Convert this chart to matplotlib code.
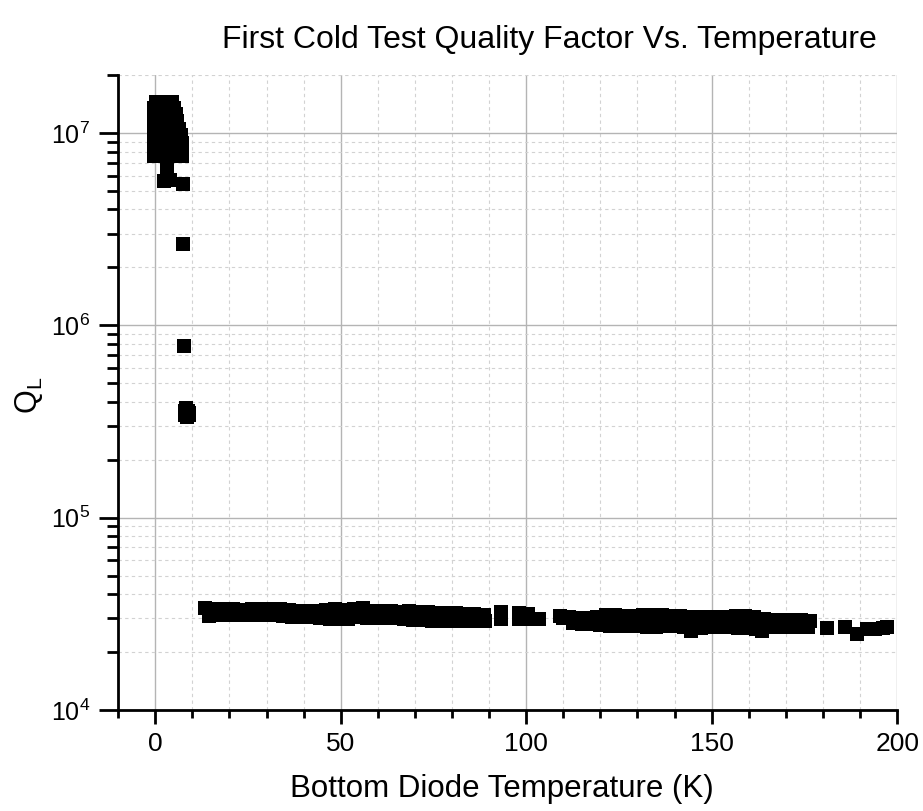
import matplotlib
matplotlib.use('Agg')
import matplotlib.pyplot as plt
from matplotlib.ticker import MultipleLocator, LogLocator, NullFormatter, FixedLocator
import numpy as np

plt.rcParams['font.family'] = ['Liberation Sans', 'DejaVu Sans']
plt.rcParams['mathtext.fontset'] = 'custom'
plt.rcParams['mathtext.rm'] = 'Liberation Sans'
plt.rcParams['mathtext.it'] = 'Liberation Sans:italic'

# superconducting cluster, low temperature (K, Q_L)
cold_t = [0.2, 1.0, 2.0, 3.0, 4.0, 4.6,
          -0.2, 0.8, 1.8, 2.8, 3.8, 5.0,
          -0.3, 0.6, 1.5, 2.5, 3.5, 4.5, 5.6,
          -0.3, 0.7, 1.7, 2.7, 3.7, 4.7, 6.0,
          -0.2, 0.9, 1.9, 2.9, 3.9, 4.9, 6.4,
          -0.3, 0.7, 1.7, 2.7, 3.7, 4.7, 5.8, 6.9,
          -0.3, 0.8, 1.8, 2.8, 3.8, 5.0, 6.2, 7.2,
          -0.2, 0.9, 2.0, 3.0, 4.0, 5.2, 6.4, 7.3,
          -0.2, 1.0, 2.1, 3.2, 4.3, 5.5, 6.6, 7.3,
          3.2, 3.3, 3.1, 2.4, 4.0, 7.6]
cold_q = [1.45e7] * 6 + [1.35e7] * 6 + [1.25e7] * 7 + [1.15e7] * 7 + [1.05e7] * 7 \
    + [9.7e6] * 8 + [8.9e6] * 8 + [8.2e6] * 8 + [7.6e6] * 8 \
    + [7.0e6, 6.4e6, 6.0e6, 5.6e6, 5.7e6, 5.4e6]

# transition points
trans_t = [7.6, 7.8, 7.9, 8.3, 8.8, 9.2, 8.0, 8.6, 9.1]
trans_q = [2.65e6, 7.85e5, 3.6e5, 3.7e5, 3.6e5, 3.5e5, 3.4e5, 3.35e5, 3.4e5]

# normal-conducting band
warm_t = [13.5, 16, 18.5, 21, 23.5, 26, 28.5, 31, 33.5, 36, 38.5, 41, 43.5, 46, 48.5,
          51, 53.5, 56, 58.5, 61, 63.5, 66, 68.5, 71, 73.5, 76, 78.5, 81, 83.5, 86, 88.5,
          14.5, 17, 19.5, 22, 24.5, 27, 29.5, 32, 34.5, 37, 39.5, 42, 44.5, 47, 49.5,
          52, 54.5, 57, 59.5, 62, 64.5, 67, 69.5, 72, 74.5, 77, 79.5, 82, 84.5, 87, 89,
          93.1, 93.1, 98, 98, 100.5, 100.5, 103.5,
          109, 111.5, 114, 116.5, 119, 121.5, 124, 126.5, 129, 131.5, 134, 136.5, 139,
          141.5, 144, 146.5, 149, 151.5, 154, 156.5, 159, 161.5, 164, 166.5, 169, 171.5,
          174, 176.5,
          110, 112.5, 115, 117.5, 120, 122.5, 125, 127.5, 130, 132.5, 135, 137.5, 140,
          142.5, 144.5, 147, 149.5, 152, 154.5, 157, 159.5, 162, 163.5, 166, 168.5, 171,
          173.5, 176,
          181, 186, 189.2, 191.9, 194, 196.2, 197.3]
warm_q = [3.38e4, 3.36e4, 3.34e4, 3.34e4, 3.32e4, 3.34e4, 3.34e4, 3.36e4, 3.34e4, 3.30e4,
          3.26e4, 3.26e4, 3.28e4, 3.30e4, 3.34e4, 3.30e4, 3.34e4, 3.38e4, 3.26e4, 3.26e4,
          3.26e4, 3.22e4, 3.26e4, 3.22e4, 3.22e4, 3.19e4, 3.19e4, 3.19e4, 3.15e4, 3.15e4,
          3.11e4,
          3.08e4, 3.11e4, 3.11e4, 3.11e4, 3.11e4, 3.11e4, 3.11e4, 3.11e4, 3.08e4, 3.04e4,
          3.04e4, 3.04e4, 3.00e4, 2.97e4, 2.97e4, 2.97e4, 3.04e4, 3.00e4, 3.00e4, 3.00e4,
          3.00e4, 2.97e4, 2.93e4, 2.93e4, 2.90e4, 2.90e4, 2.90e4, 2.90e4, 2.90e4, 2.90e4,
          2.90e4,
          3.22e4, 2.97e4, 3.19e4, 2.97e4, 3.15e4, 2.97e4, 2.99e4,
          3.08e4, 3.04e4, 3.00e4, 3.00e4, 3.04e4, 3.11e4, 3.11e4, 3.08e4, 3.08e4, 3.11e4,
          3.11e4, 3.11e4, 3.08e4, 3.08e4, 3.04e4, 3.04e4, 3.04e4, 3.04e4, 3.04e4, 3.08e4,
          3.08e4, 3.04e4, 2.97e4, 2.93e4, 2.93e4, 2.93e4, 2.93e4, 2.90e4,
          3.00e4, 2.83e4, 2.79e4, 2.79e4, 2.76e4, 2.73e4, 2.73e4, 2.73e4, 2.73e4, 2.70e4,
          2.70e4, 2.73e4, 2.73e4, 2.70e4, 2.57e4, 2.67e4, 2.70e4, 2.70e4, 2.70e4, 2.67e4,
          2.67e4, 2.63e4, 2.57e4, 2.70e4, 2.70e4, 2.70e4, 2.70e4, 2.70e4,
          2.68e4, 2.70e4, 2.48e4, 2.63e4, 2.65e4, 2.67e4, 2.70e4]

x_ticks = [0, 50, 100, 150, 200]
y_ticks = [1e4, 1e5, 1e6, 1e7]
y_tick_labels = ['$10^4$', '$10^5$', '$10^6$', '$10^7$']

fig = plt.figure(figsize=(9.23, 8.11), dpi=100)
ax = fig.add_axes([0.128, 0.1245, 0.844, 0.783])

for t, q in [(cold_t, cold_q), (trans_t, trans_q), (warm_t, warm_q)]:
    ax.plot(t, q, linestyle='none', marker='s', markersize=9.5, color='black',
            markeredgewidth=0, zorder=3)

ax.set_yscale('log')
ax.set_xlim(-10, 200)
ax.set_ylim(1e4, 2e7)

ax.xaxis.set_major_locator(FixedLocator(x_ticks))
ax.xaxis.set_minor_locator(MultipleLocator(10))
ax.yaxis.set_major_locator(FixedLocator(y_ticks))
ax.set_yticklabels(y_tick_labels)
ax.yaxis.set_minor_locator(LogLocator(base=10, subs=np.arange(2, 10)))
ax.yaxis.set_minor_formatter(NullFormatter())

ax.grid(True, which='major', color='#b4b4b4', linewidth=1.0, linestyle='-')
ax.grid(True, which='minor', color='#d2d2d2', linewidth=0.8, linestyle=(0, (3, 3)))
ax.set_axisbelow(True)

for side in ['top', 'right']:
    ax.spines[side].set_visible(False)
for side in ['left', 'bottom']:
    ax.spines[side].set_linewidth(2)

ax.tick_params(axis='x', which='major', direction='out', length=10, width=2,
               labelsize=19, pad=6)
ax.tick_params(axis='x', which='minor', direction='out', length=6, width=2)
ax.tick_params(axis='y', which='major', direction='out', length=14, width=2,
               labelsize=18, pad=6)
ax.tick_params(axis='y', which='minor', direction='out', length=8, width=2)

ax.set_xlabel('Bottom Diode Temperature (K)', fontsize=22.5)
ax.xaxis.set_label_coords(0.493, -0.1)
ax.set_ylabel('Q$_\\mathrm{L}$', fontsize=22)
ax.yaxis.set_label_coords(-0.094, 0.496)

fig.text(0.595, 0.951, 'First Cold Test Quality Factor Vs. Temperature',
         fontsize=23, ha='center', va='center')

fig.savefig('out.png', dpi=100)
